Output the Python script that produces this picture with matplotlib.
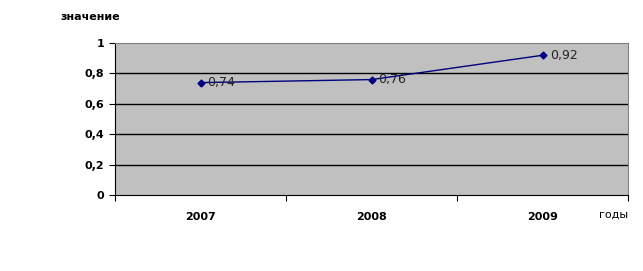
import numpy as np
import matplotlib.pyplot as plt

years = ['2007', '2008', '2009']
values = [0.74, 0.76, 0.92]
value_labels = ['0,74', '0,76', '0,92']
y_ticks = [0, 0.2, 0.4, 0.6, 0.8, 1]
y_tick_labels = ['0', '0,2', '0,4', '0,6', '0,8', '1']

fig = plt.figure(figsize=(6.43, 2.71), dpi=100)
ax = fig.add_axes([0.179, 0.280, 0.798, 0.561])
ax.set_facecolor('#c0c0c0')

x = np.arange(len(years))
ax.plot(x, values, color='#000080', lw=1, marker='D', ms=3.5, zorder=3)
for xi, v, lab in zip(x, values, value_labels):
    ax.annotate(lab, (xi, v), xytext=(5, 0), textcoords='offset points',
                ha='left', va='center', fontsize=9, color='#222222')

ax.set_xlim(-0.5, 2.5)
ax.set_ylim(0, 1)
ax.set_yticks(y_ticks)
ax.set_yticklabels(y_tick_labels, fontsize=8, fontweight='bold')
ax.set_xticks([-0.5, 0.5, 1.5, 2.5])
ax.set_xticklabels([])
ax.set_xticks(x, minor=True)
ax.set_xticklabels(years, minor=True, fontsize=8, fontweight='bold')
ax.tick_params(axis='x', which='minor', length=0, pad=12)
ax.tick_params(axis='x', which='major', length=4, color='black')
ax.tick_params(axis='y', length=4, pad=4)

for yv in y_ticks[1:-1]:
    ax.axhline(yv, color='black', lw=1, zorder=1)

ax.spines['top'].set_color('#808080')
ax.spines['right'].set_color('#808080')
ax.spines['left'].set_color('black')
ax.spines['bottom'].set_color('black')

fig.text(60 / 643, 1 - 17 / 271, 'значение', fontsize=8, fontweight='bold',
         ha='left', va='center')
fig.text(628 / 643, 1 - 215 / 271, 'годы', fontsize=8, ha='right', va='center')

fig.savefig('out.png', dpi=100)
